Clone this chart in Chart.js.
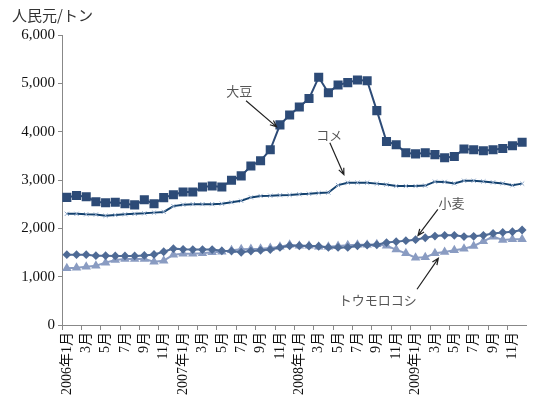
<!DOCTYPE html>
<html>
<head>
<meta charset="utf-8">
<script src="https://cdn.jsdelivr.net/npm/chart.js@4.4.0/dist/chart.umd.min.js"></script>
<style>
  body { margin: 0; background: #fff; }
  #wrap { width: 541px; height: 398px; }
</style>
</head>
<body>
<div id="wrap"><canvas id="canvas" width="541" height="398"></canvas></div>
<script>
// months Jan 2006 - Dec 2009
const categories = [
  '2006年1月', '2月', '3月', '4月', '5月', '6月', '7月', '8月', '9月', '10月', '11月', '12月',
  '2007年1月', '2月', '3月', '4月', '5月', '6月', '7月', '8月', '9月', '10月', '11月', '12月',
  '2008年1月', '2月', '3月', '4月', '5月', '6月', '7月', '8月', '9月', '10月', '11月', '12月',
  '2009年1月', '2月', '3月', '4月', '5月', '6月', '7月', '8月', '9月', '10月', '11月', '12月'
];

const soybean = [
  2640, 2680, 2655, 2550, 2530, 2540, 2510, 2485, 2590, 2510, 2635, 2695,
  2750, 2750, 2855, 2875, 2855, 2995, 3085, 3290, 3400, 3625, 4140, 4345,
  4510, 4685, 5125, 4805, 4965, 5015, 5070, 5055, 4435, 3795, 3730, 3565,
  3540, 3565, 3525, 3460, 3485, 3640, 3625, 3605, 3625, 3650, 3710, 3780
];
const rice = [
  2300, 2300, 2290, 2285, 2260, 2275, 2290, 2300, 2310, 2325, 2340, 2460,
  2490, 2500, 2500, 2500, 2510, 2540, 2570, 2640, 2670, 2675, 2685, 2690,
  2705, 2715, 2730, 2740, 2895, 2945, 2945, 2945, 2925, 2905, 2875, 2875,
  2875, 2885, 2965, 2960, 2930, 2985, 2985, 2970, 2950, 2930, 2890, 2925
];
const wheat = [
  1455, 1455, 1455, 1435, 1435, 1430, 1430, 1430, 1440, 1460, 1515, 1580,
  1565, 1560, 1560, 1560, 1535, 1530, 1505, 1530, 1545, 1560, 1605, 1640,
  1640, 1635, 1630, 1605, 1605, 1605, 1640, 1655, 1660, 1705, 1725, 1745,
  1765, 1805, 1840, 1855, 1855, 1830, 1835, 1855, 1895, 1915, 1930, 1965
];
const corn = [
  1172, 1186, 1207, 1228, 1290, 1345, 1366, 1366, 1366, 1310, 1331, 1455,
  1476, 1476, 1483, 1503, 1517, 1545, 1566, 1573, 1579, 1593, 1621, 1662,
  1641, 1641, 1621, 1621, 1634, 1648, 1662, 1662, 1669, 1640, 1560, 1483,
  1393, 1400, 1483, 1510, 1545, 1579, 1634, 1731, 1828, 1759, 1772, 1772
];

const yTicks = [0, 1000, 2000, 3000, 4000, 5000, 6000];

// callouts, in data units (category index, value)
const callouts = [
  { text: '大豆', at: [17.8, 4830], from: [18.5, 4640], to: [21.65, 4100] },
  { text: 'コメ', at: [27.1, 3930], from: [27.15, 3770], to: [28.6, 3110] },
  { text: '小麦', at: [39.7, 2530], from: [38.3, 2390], to: [36.25, 1850] },
  { text: 'トウモロコシ', at: [32.1, 520], from: [36.15, 740], to: [38.35, 1380] }
];

const serif = "'Liberation Serif', 'Noto Sans CJK JP', serif";

const calloutPlugin = {
  id: 'callouts',
  afterDatasetsDraw(chart) {
    const { ctx, scales: { x, y } } = chart;
    ctx.save();
    callouts.forEach(c => {
      ctx.font = "13px 'Noto Sans CJK JP'";
      ctx.fillStyle = '#555';
      ctx.textAlign = 'center';
      ctx.textBaseline = 'middle';
      ctx.fillText(c.text, x.getPixelForValue(c.at[0]), y.getPixelForValue(c.at[1]));

      const x1 = x.getPixelForValue(c.from[0]), y1 = y.getPixelForValue(c.from[1]);
      const x2 = x.getPixelForValue(c.to[0]), y2 = y.getPixelForValue(c.to[1]);
      const a = Math.atan2(y2 - y1, x2 - x1);
      ctx.strokeStyle = '#222';
      ctx.lineWidth = 1.2;
      ctx.beginPath();
      ctx.moveTo(x1, y1);
      ctx.lineTo(x2, y2);
      ctx.moveTo(x2 - 7 * Math.cos(a - 0.4), y2 - 7 * Math.sin(a - 0.4));
      ctx.lineTo(x2, y2);
      ctx.lineTo(x2 - 7 * Math.cos(a + 0.4), y2 - 7 * Math.sin(a + 0.4));
      ctx.stroke();
    });
    ctx.restore();
  }
};

new Chart(document.getElementById('canvas'), {
  type: 'line',
  data: {
    labels: categories,
    datasets: [
      {
        label: '小麦',
        data: wheat,
        borderColor: '#4F6B96',
        backgroundColor: '#4F6B96',
        borderWidth: 2,
        pointStyle: 'rectRot',
        pointRadius: 3,
        tension: 0
      },
      {
        label: 'トウモロコシ',
        data: corn,
        borderColor: '#8A9CC2',
        backgroundColor: '#8A9CC2',
        borderWidth: 2,
        pointStyle: 'triangle',
        pointRadius: 3.5,
        tension: 0
      },
      {
        label: 'コメ',
        data: rice,
        borderColor: '#14426F',
        pointBorderColor: '#92ABCB',
        pointBackgroundColor: '#92ABCB',
        pointBorderWidth: 1,
        borderWidth: 2,
        pointStyle: 'crossRot',
        pointRadius: 3,
        tension: 0
      },
      {
        label: '大豆',
        data: soybean,
        borderColor: '#2D4B77',
        backgroundColor: '#2D4B77',
        borderWidth: 2,
        pointStyle: 'rect',
        pointRadius: 5,
        tension: 0
      }
    ]
  },
  options: {
    responsive: false,
    animation: false,
    layout: { padding: { left: 12, right: 8, top: 0, bottom: 0 } },
    plugins: {
      legend: { display: false },
      tooltip: { enabled: false },
      title: {
        display: true,
        text: '人民元/トン',
        align: 'start',
        color: '#333',
        font: { family: "'Noto Sans CJK JP'", size: 15, weight: 'normal' },
        padding: { top: 6, bottom: 11 }
      }
    },
    scales: {
      x: {
        offset: true,
        grid: {
          offset: true,
          drawOnChartArea: false,
          tickLength: 5,
          color: c => (c.index % 2 === 0 ? '#888' : 'rgba(0,0,0,0)')
        },
        border: { color: '#888', width: 1 },
        ticks: {
          autoSkip: false,
          minRotation: 90,
          maxRotation: 90,
          padding: 2,
          color: '#111',
          font: { family: serif, size: 14 },
          callback: (v, i) => (i % 2 === 0 ? categories[i] : '')
        },
        afterFit: s => { s.height = 73; }
      },
      y: {
        min: 0,
        max: 6000,
        afterBuildTicks: s => { s.ticks = yTicks.map(v => ({ value: v })); },
        grid: { drawOnChartArea: false, tickLength: 4, color: '#888' },
        border: { color: '#888', width: 1 },
        ticks: {
          padding: 3,
          color: '#111',
          font: { family: serif, size: 15 },
          callback: v => v.toLocaleString('en-US')
        },
        afterFit: s => { s.width = 50; }
      }
    }
  },
  plugins: [calloutPlugin]
});
</script>
</body>
</html>
